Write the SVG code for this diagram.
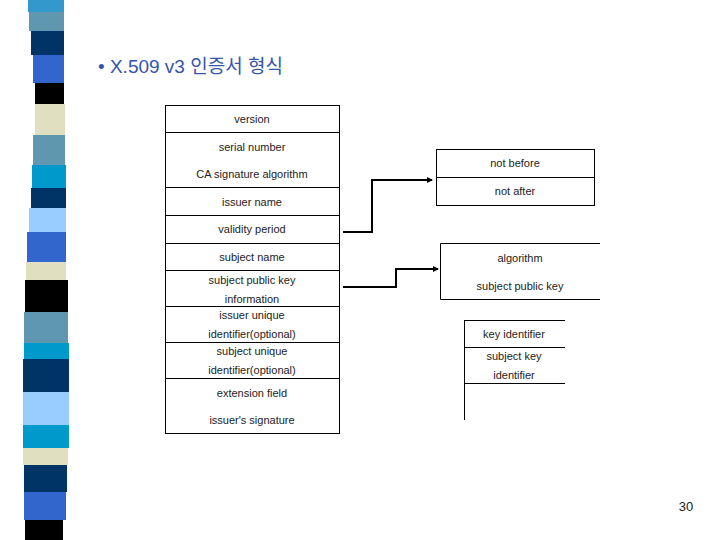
<svg xmlns="http://www.w3.org/2000/svg" width="720" height="540" viewBox="0 0 720 540">
<defs>
<style>
.t{font-family:"Liberation Sans",sans-serif;font-size:11px;fill:#222;text-anchor:middle}
.b{fill:none;stroke:#000;stroke-width:1}
.c{fill:none;stroke:#000;stroke-width:2}
</style>
<marker id="ah" markerWidth="6" markerHeight="6" refX="5" refY="3" orient="auto" markerUnits="userSpaceOnUse"><path d="M0,0 L6,3 L0,6 z" fill="#000"/></marker>
</defs>
<rect width="720" height="540" fill="#fff"/>
<g id="strip">
<rect x="28" y="0" width="36" height="12" fill="#3399cc"/>
<rect x="29" y="12" width="35" height="19" fill="#5f96b0"/>
<rect x="31" y="31" width="33" height="24" fill="#003366"/>
<rect x="33" y="55" width="31" height="28" fill="#3366cc"/>
<rect x="35" y="83" width="29" height="21" fill="#000"/>
<rect x="35" y="104" width="30" height="31" fill="#e0e0c0"/>
<rect x="33" y="135" width="32" height="30" fill="#5f96b0"/>
<rect x="32" y="165" width="34" height="23" fill="#0099cc"/>
<rect x="31" y="188" width="35" height="20" fill="#003366"/>
<rect x="29" y="208" width="37" height="24" fill="#99ccff"/>
<rect x="27" y="232" width="39" height="30" fill="#3366cc"/>
<rect x="26" y="262" width="40" height="18" fill="#e0e0c0"/>
<rect x="25" y="280" width="43" height="32" fill="#000"/>
<rect x="24" y="312" width="44" height="31" fill="#5f96b0"/>
<rect x="24" y="343" width="45" height="16" fill="#0099cc"/>
<rect x="23" y="359" width="46" height="33" fill="#003366"/>
<rect x="23" y="392" width="46" height="33" fill="#99ccff"/>
<rect x="23" y="425" width="46" height="23" fill="#0099cc"/>
<rect x="23" y="448" width="45" height="17" fill="#e0e0c0"/>
<rect x="24" y="465" width="43" height="27" fill="#003366"/>
<rect x="24" y="492" width="42" height="28" fill="#3366cc"/>
<rect x="25" y="520" width="38" height="20" fill="#000"/>
</g>
<text x="98" y="73" font-family="'Liberation Sans','Noto Sans CJK KR',sans-serif" font-size="19" fill="#3355aa">• X.509 v3 인증서 형식</text>
<g id="cert">
<rect class="b" x="165.5" y="105.5" width="174" height="328"/>
<path class="b" d="M165 132.5H340M165 187.5H340M165 215.5H340M165 243.5H340M165 270.5H340M165 306.5H340M165 342.5H340M165 378.5H340"/>
<text class="t" x="252" y="123">version</text>
<text class="t" x="252" y="151">serial number</text>
<text class="t" x="252" y="178">CA signature algorithm</text>
<text class="t" x="252" y="206">issuer name</text>
<text class="t" x="252" y="233">validity period</text>
<text class="t" x="252" y="261">subject name</text>
<text class="t" x="252" y="284">subject public key</text>
<text class="t" x="252" y="303">information</text>
<text class="t" x="252" y="319">issuer unique</text>
<text class="t" x="252" y="338">identifier(optional)</text>
<text class="t" x="252" y="355">subject unique</text>
<text class="t" x="252" y="374">identifier(optional)</text>
<text class="t" x="252" y="397">extension field</text>
<text class="t" x="252" y="424">issuer's signature</text>
</g>
<g id="validity">
<rect class="b" x="436.5" y="149.5" width="158" height="56"/>
<path class="b" d="M436 177.5H595"/>
<text class="t" x="515" y="167">not before</text>
<text class="t" x="515" y="195">not after</text>
</g>
<g id="spki">
<path class="b" d="M600 243.5H440.5V299.5H600"/>
<text class="t" x="520" y="262">algorithm</text>
<text class="t" x="520" y="290">subject public key</text>
</g>
<g id="ext">
<path class="b" d="M464.5 320V420M464 320.5H565M464 347.5H565M464 383.5H565"/>
<text class="t" x="514" y="338">key identifier</text>
<text class="t" x="514" y="360">subject key</text>
<text class="t" x="514" y="379">identifier</text>
</g>
<g id="connectors">
<path class="c" d="M343 232H372V180H432" marker-end="url(#ah)"/>
<path class="c" d="M343 287H396V269H438" marker-end="url(#ah)"/>
</g>
<text x="686" y="511" font-family="'Liberation Sans',sans-serif" font-size="13" fill="#222" text-anchor="middle">30</text>
</svg>
